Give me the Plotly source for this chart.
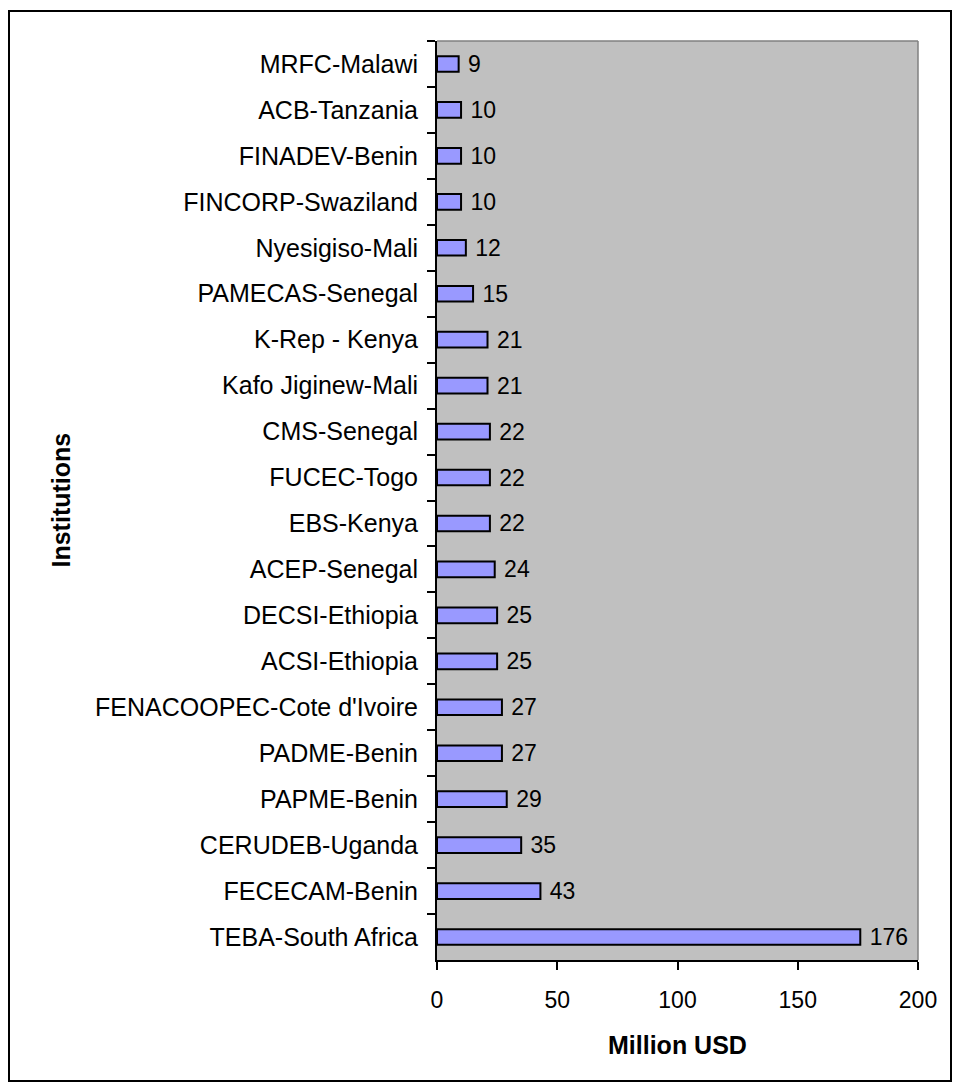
import plotly.graph_objects as go

institutions = [
    "MRFC-Malawi", "ACB-Tanzania", "FINADEV-Benin", "FINCORP-Swaziland",
    "Nyesigiso-Mali", "PAMECAS-Senegal", "K-Rep - Kenya", "Kafo Jiginew-Mali",
    "CMS-Senegal", "FUCEC-Togo", "EBS-Kenya", "ACEP-Senegal",
    "DECSI-Ethiopia", "ACSI-Ethiopia", "FENACOOPEC-Cote d'Ivoire",
    "PADME-Benin", "PAPME-Benin", "CERUDEB-Uganda", "FECECAM-Benin",
    "TEBA-South Africa",
]
values = [9, 10, 10, 10, 12, 15, 21, 21, 22, 22, 22, 24, 25, 25, 27, 27, 29, 35, 43, 176]
x_ticks = [0, 50, 100, 150, 200]

# page has an 8px body margin; figure spans page (8,8)-(952,1082)
W, H = 944, 1074
L, R, T, B = 429, 34, 33, 122
pw, ph = W - L - R, H - T - B

fam = "Liberation Sans, Arial, sans-serif"
label_font = dict(family=fam, size=25, color="black")
num_font = dict(family=fam, size=23, color="black")
title_font = dict(family=fam, size=25, color="black")

fig = go.Figure(go.Bar(
    y=institutions, x=values, orientation="h",
    marker=dict(color="#9999FF", line=dict(color="black", width=2)),
    width=0.34,
    text=[" " + str(v) for v in values], textposition="outside",
    textfont=num_font, cliponaxis=False, constraintext="none",
))

fig.update_layout(
    width=W, height=H,
    margin=dict(l=L, r=R, t=T, b=B),
    paper_bgcolor="white", plot_bgcolor="#C0C0C0",
    font=label_font, showlegend=False,
    uniformtext=dict(mode=False),
    xaxis=dict(range=[0, 200], tickvals=x_ticks, showgrid=False, zeroline=False,
               showline=True, linecolor="black", linewidth=2,
               ticks="outside", ticklen=8, tickcolor="black", tickwidth=2,
               tickfont=num_font, ticklabelstandoff=10),
    yaxis=dict(autorange="reversed", type="category", showgrid=False,
               showline=True, linecolor="black", linewidth=2,
               ticks="outside", ticklen=8, tickcolor="black", tickwidth=2,
               tickson="boundaries", tickfont=label_font, ticklabelstandoff=12),
    annotations=[
        dict(text="<b>Million USD</b>", xref="paper", yref="paper",
             x=0.5, y=-(1037 - (T + ph)) / ph, xanchor="center", yanchor="middle",
             showarrow=False, font=title_font),
        dict(text="<b>Institutions</b>", xref="paper", yref="paper",
             x=(52 - L) / pw, y=0.5, xanchor="center", yanchor="middle", textangle=-90,
             showarrow=False, font=title_font),
    ],
    shapes=[
        dict(type="line", xref="paper", yref="paper", x0=0, x1=1, y0=1, y1=1,
             line=dict(color="#808080", width=1.5)),
        dict(type="line", xref="paper", yref="paper", x0=1, x1=1, y0=0, y1=1,
             line=dict(color="#808080", width=1.5)),
        dict(type="rect", xref="paper", yref="paper",
             x0=(1 - L) / pw, x1=(W - 1 - L) / pw,
             y0=(T + ph - (H - 1)) / ph, y1=(T + ph - 3) / ph,
             line=dict(color="black", width=2), fillcolor="rgba(0,0,0,0)"),
    ],
)

fig.write_html("out.html")
